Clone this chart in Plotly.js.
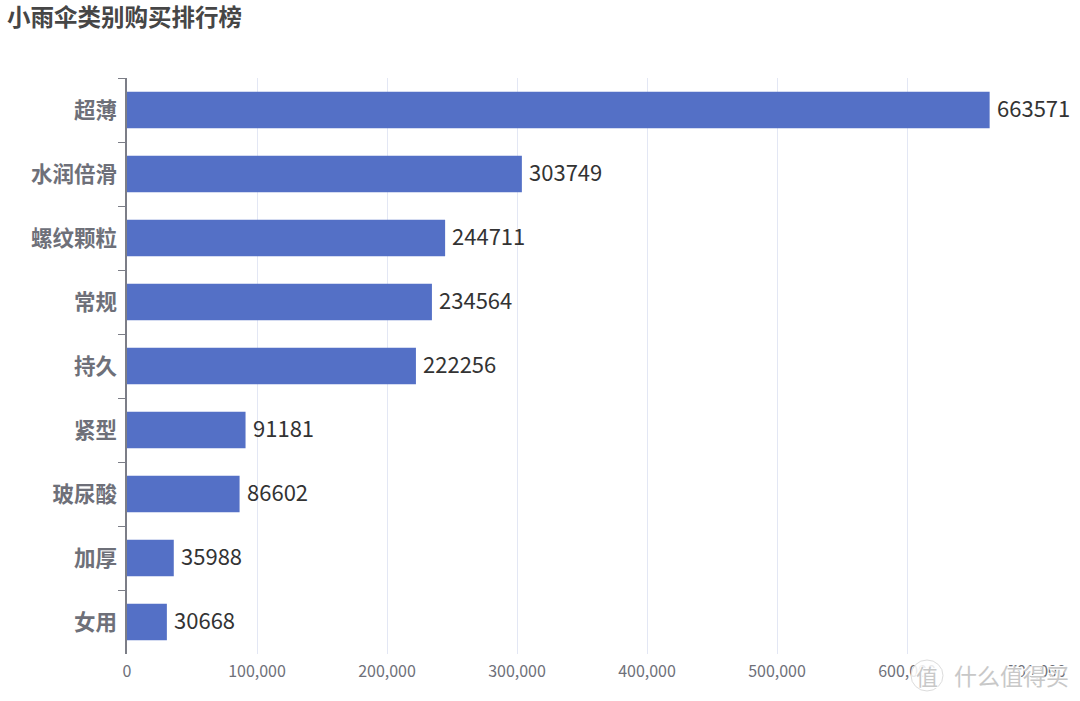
<!DOCTYPE html>
<html>
<head>
<meta charset="utf-8">
<script src="https://cdn.plot.ly/plotly-3.0.1.min.js"></script>
<style>
  html, body { margin: 0; padding: 0; background: #fff; }
  #chart { width: 1080px; height: 701px; }
</style>
</head>
<body>
<div id="chart"></div>
<script>
const categories = ['超薄', '水润倍滑', '螺纹颗粒', '常规', '持久', '紧型', '玻尿酸', '加厚', '女用'];
const purchases = [663571, 303749, 244711, 234564, 222256, 91181, 86602, 35988, 30668];
const tickValues = [0, 100000, 200000, 300000, 400000, 500000, 600000, 700000];
const tickLabels = ['0', '100,000', '200,000', '300,000', '400,000', '500,000', '600,000', '700,000'];

const fontName = '"Noto Sans CJK SC", "Noto Sans", sans-serif';

const trace = {
    type: 'bar',
    orientation: 'h',
    y: categories,
    x: purchases,
    width: 0.57,
    marker: { color: '#5470c6' },
    hoverinfo: 'x+y'
};

// valeurs au bout des barres, en annotations pour regler l'ecart
const valueLabels = purchases.map((v, i) => ({
    x: v,
    y: categories[i],
    text: String(v),
    showarrow: false,
    xanchor: 'left',
    xshift: 5,
    yshift: 3,
    font: { family: fontName, size: 22, color: '#333' }
}));

// filigrane du site, en bas a droite
const watermark = [
    { text: '值', x: 927, size: 22 },
    { text: '什么值得买', x: 1011, size: 23 }
].map(w => ({
    xref: 'paper', yref: 'paper',
    x: (w.x - 127) / 910,
    y: -21 / 576,
    text: w.text,
    showarrow: false,
    xanchor: 'center',
    yanchor: 'middle',
    font: { family: fontName, size: w.size, color: '#c8c8c8', shadow: '1px 1px 0 #fff, -1px -1px 0 #fff' }
}));

const layout = {
    width: 1080,
    height: 701,
    paper_bgcolor: '#fff',
    plot_bgcolor: '#fff',
    showlegend: false,
    font: { family: fontName },
    title: {
        text: '<b>小雨伞类别购买排行榜</b>',
        font: { family: fontName, size: 23.5, color: '#464646' },
        x: 7 / 1080, xanchor: 'left',
        y: 1 - 18 / 701, yanchor: 'middle'
    },
    margin: { l: 127, r: 43, t: 78, b: 47 },
    xaxis: {
        range: [0, 700000],
        tickvals: tickValues,
        ticktext: tickLabels,
        tickfont: { family: fontName, size: 16, color: '#6e7079' },
        gridcolor: '#e3e7f4',
        gridwidth: 1,
        zeroline: false,
        showline: false,
        ticks: '',
        ticklabelstandoff: 6
    },
    yaxis: {
        type: 'category',
        autorange: false,
        range: [8.5, -0.5],
        tickfont: { family: fontName, size: 21.5, color: '#6e7079', weight: 'bold' },
        showgrid: false,
        zeroline: false,
        showline: true,
        linecolor: '#7c7e87',
        linewidth: 1.5,
        ticks: 'outside',
        tickson: 'boundaries',
        ticklen: 7,
        tickwidth: 1,
        tickcolor: '#7c7e87',
        ticklabelstandoff: 4
    },
    annotations: valueLabels.concat(watermark),
    shapes: [{
        type: 'circle',
        xref: 'paper', yref: 'paper',
        x0: (911 - 127) / 910, x1: (943 - 127) / 910,
        y0: -37 / 576, y1: -6 / 576,
        line: { color: '#dcdcdc', width: 1 },
        fillcolor: 'rgba(255,255,255,0.85)',
        layer: 'above'
    }]
};

Plotly.newPlot('chart', [trace], layout, { displayModeBar: false, responsive: false });
</script>
</body>
</html>
